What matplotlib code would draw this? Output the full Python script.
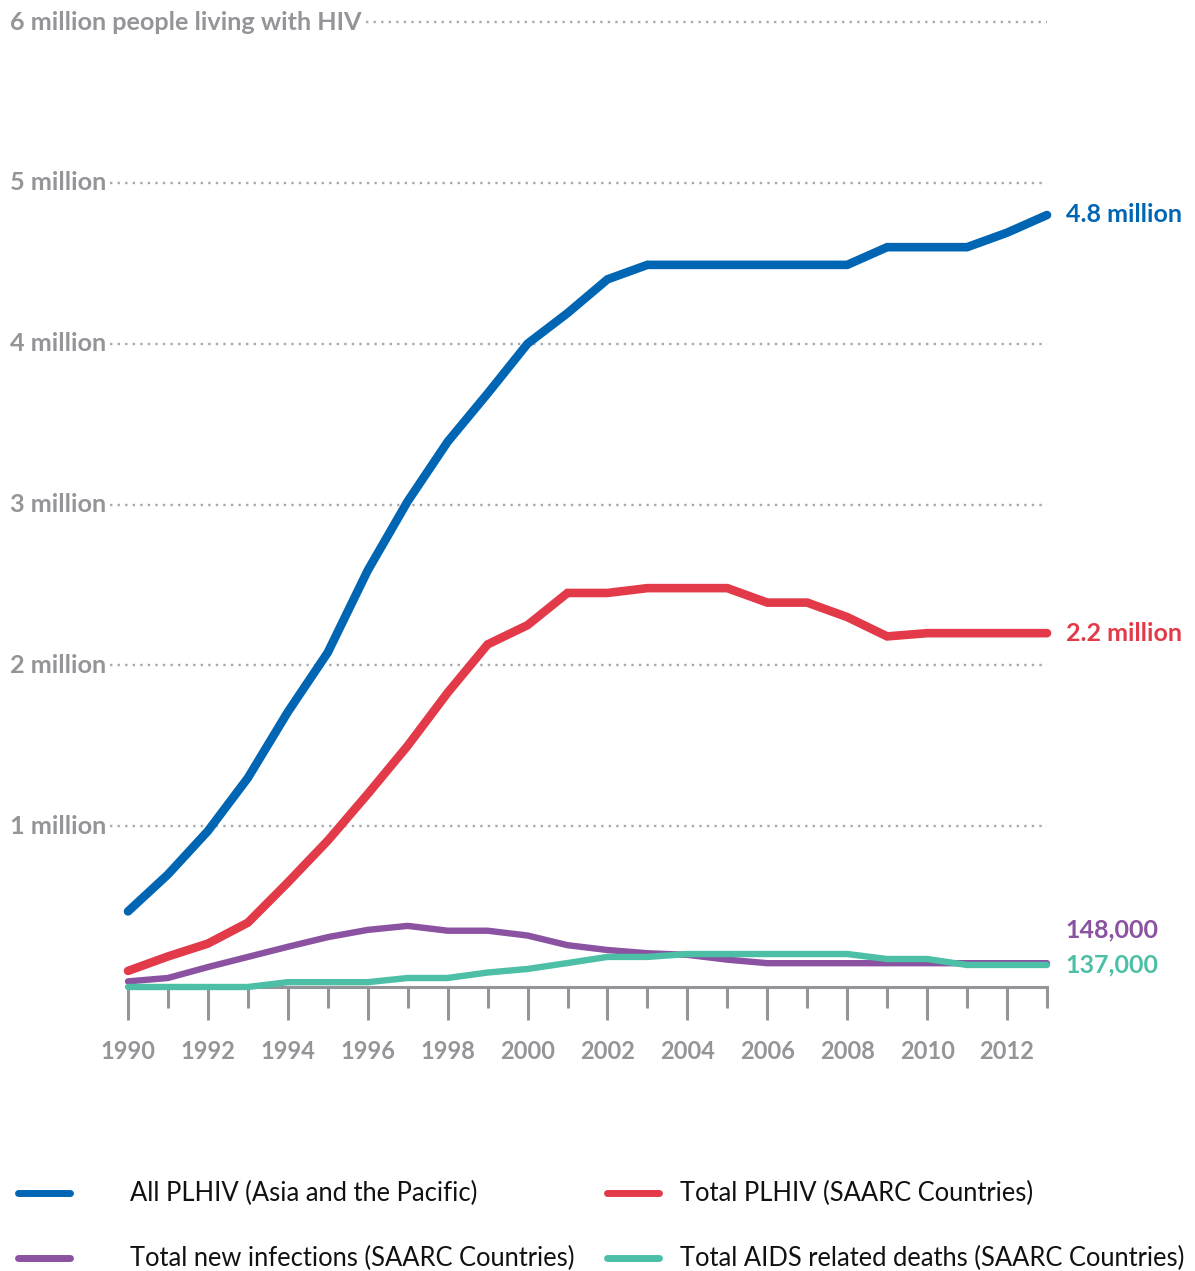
import matplotlib.pyplot as plt
from matplotlib.lines import Line2D

years = list(range(1990, 2014))

# people living with HIV / new infections / deaths, in millions
plhiv_asia = [0.47, 0.70, 0.97, 1.30, 1.71, 2.08, 2.59, 3.02, 3.39, 3.69, 4.00, 4.19,
              4.40, 4.49, 4.49, 4.49, 4.49, 4.49, 4.49, 4.60, 4.60, 4.60, 4.69, 4.80]
plhiv_saarc = [0.10, 0.19, 0.27, 0.40, 0.65, 0.91, 1.20, 1.50, 1.83, 2.13, 2.25, 2.45,
               2.45, 2.48, 2.48, 2.48, 2.39, 2.39, 2.30, 2.18, 2.20, 2.20, 2.20, 2.20]
new_inf_saarc = [0.035, 0.056, 0.124, 0.187, 0.25, 0.31, 0.355, 0.38, 0.35, 0.35, 0.32, 0.26,
                 0.23, 0.21, 0.20, 0.17, 0.148, 0.148, 0.148, 0.148, 0.148, 0.148, 0.148, 0.148]
deaths_saarc = [0.0, 0.0, 0.0, 0.0, 0.03, 0.03, 0.03, 0.056, 0.056, 0.09, 0.112, 0.149,
                0.187, 0.187, 0.205, 0.205, 0.205, 0.205, 0.205, 0.174, 0.174, 0.137, 0.137, 0.137]

series_names = ["All PLHIV (Asia and the Pacific)", "Total PLHIV (SAARC Countries)",
                "Total new infections (SAARC Countries)", "Total AIDS related deaths (SAARC Countries)"]
end_labels = ["4.8 million", "2.2 million", "148,000", "137,000"]
y_ticks = [1, 2, 3, 4, 5, 6]
y_tick_labels = ["1 million", "2 million", "3 million", "4 million", "5 million",
                 "6 million people living with HIV"]

BLUE = "#0066b3"
RED = "#e33a4a"
PURPLE = "#8a52a1"
TEAL = "#4cbfa6"
GREY = "#939598"
DOTS = "#a7a9ac"

plt.rcParams["font.family"] = ["Lato", "DejaVu Sans"]

W, H = 1195, 1271
fig = plt.figure(figsize=(W / 100, H / 100), dpi=100)
ax = fig.add_axes([128 / W, (H - 987) / H, 919 / W, 965 / H])
ax.set_xlim(1990, 2013)
ax.set_ylim(0, 6)

for s in ["top", "right", "left"]:
    ax.spines[s].set_visible(False)
ax.spines["bottom"].set_color(GREY)
ax.spines["bottom"].set_linewidth(2.2)
ax.spines["bottom"].set_zorder(1)

ax.set_yticks([])
ax.set_xticks(years[::2])
ax.set_xticks(years[1::2], minor=True)
ax.set_xticklabels([str(y) for y in years[::2]], fontsize=17, fontweight="bold", color=GREY)
ax.tick_params(axis="x", which="major", length=24, width=2.2, color=GREY, pad=14)
ax.tick_params(axis="x", which="minor", length=15, width=2.2, color=GREY)

# y labels on the left with dotted guides running to the last year
ytrans = ax.get_yaxis_transform()
labels = []
for v, txt in zip(y_ticks, y_tick_labels):
    t = ax.text((10 - 128) / 919, v, txt, transform=ytrans, ha="left", va="center",
                fontsize=18.2, fontweight="bold", color=GREY)
    labels.append((v, t))

fig.canvas.draw()
renderer = fig.canvas.get_renderer()
for v, t in labels:
    bb = t.get_window_extent(renderer)
    x0 = ax.transAxes.inverted().transform((bb.x1 + 4, 0))[0]
    ax.plot([x0, 1], [v, v], transform=ytrans, color=DOTS, lw=1.7,
            linestyle=(0, (1, 2.2)), clip_on=False, zorder=0)

colors = [BLUE, RED, PURPLE, TEAL]
widths = [6.2, 6.2, 4.6, 4.6]
data = [plhiv_asia, plhiv_saarc, new_inf_saarc, deaths_saarc]
for vals, c, lw in zip(data, colors, widths):
    ax.plot(years, vals, color=c, lw=lw, solid_capstyle="round",
            solid_joinstyle="miter", clip_on=False, zorder=3)

# value labels at the end of each line
offsets = [0, 0, 24, 0]
for vals, c, txt, dy in zip(data, colors, end_labels, offsets):
    ax.annotate(txt, xy=(years[-1], vals[-1]), xytext=(13.5, dy), textcoords="offset points",
                ha="left", va="center", fontsize=18, fontweight="bold", color=c,
                annotation_clip=False)

# legend in two columns below the chart
legend_pos = [(18, 1193), (607, 1193), (18, 1258), (607, 1258)]
for (px, py), c, name in zip(legend_pos, colors, series_names):
    fy = (H - py) / H
    fig.add_artist(Line2D([px / W, (px + 52) / W], [fy, fy], transform=fig.transFigure,
                          color=c, lw=5, solid_capstyle="round"))
    tx = 130 if px < 300 else 680
    fig.text(tx / W, fy, name, ha="left", va="center", fontsize=18.4, color="#111111")

fig.savefig("out.png", dpi=100)
